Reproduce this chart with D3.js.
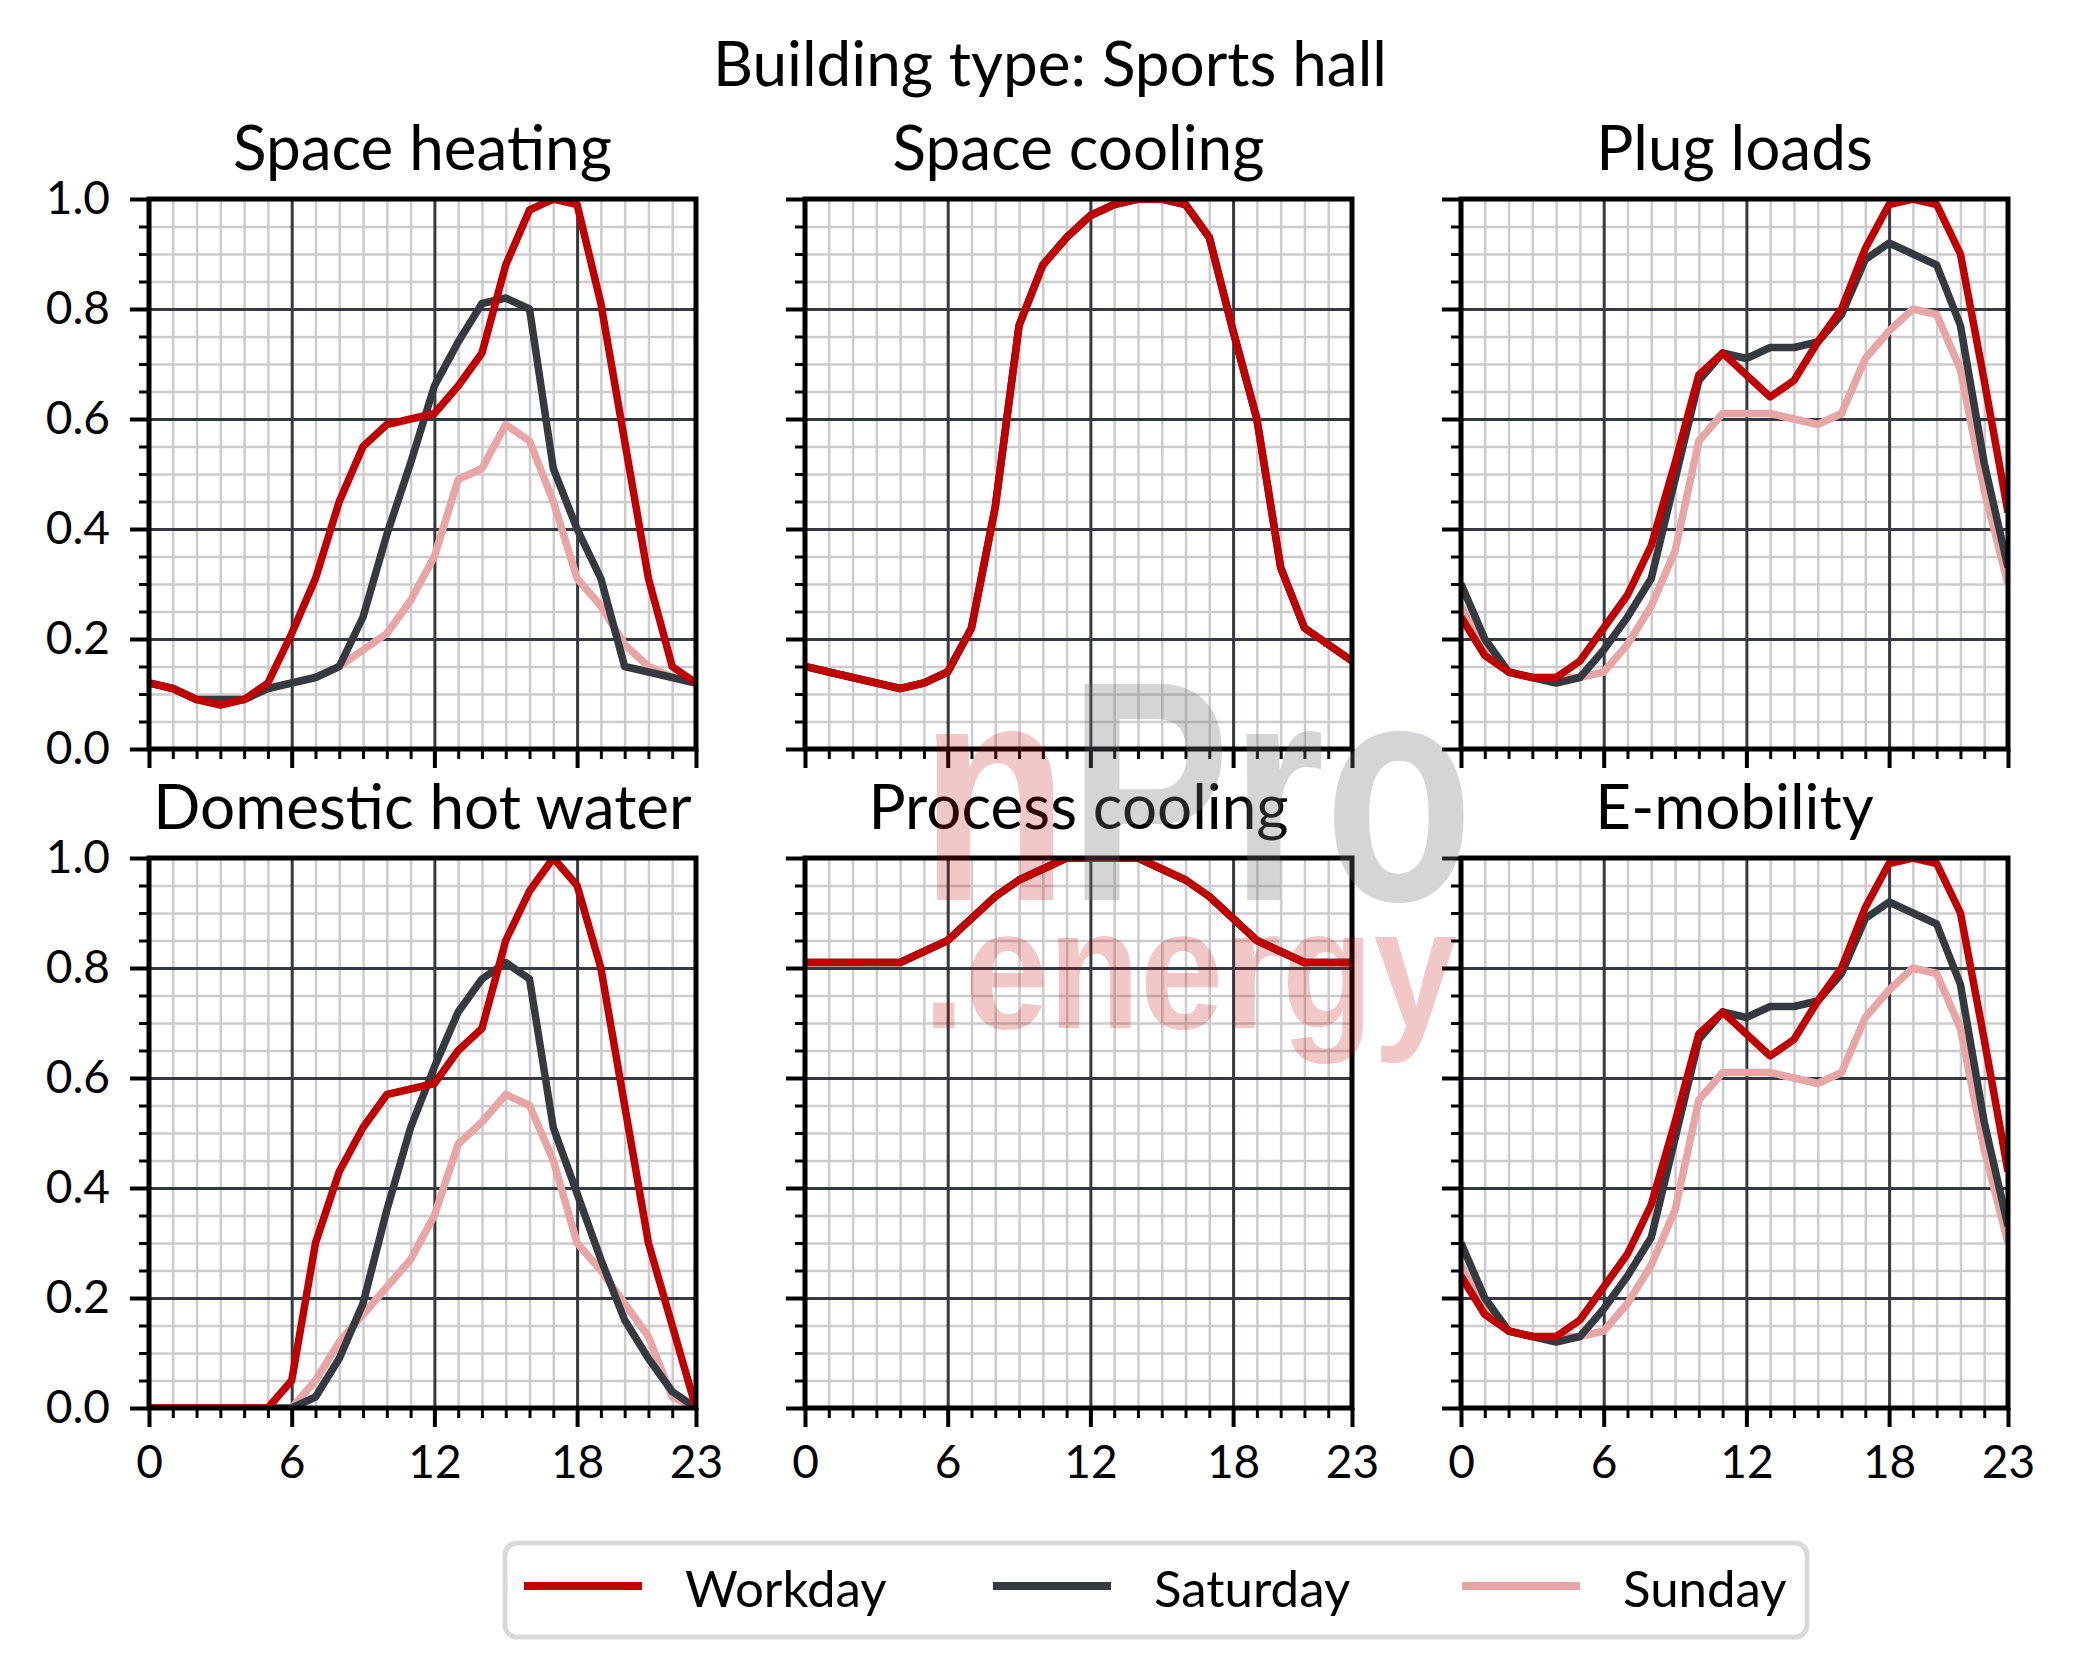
<!DOCTYPE html>
<html>
<head>
<meta charset="utf-8">
<script src="https://cdn.jsdelivr.net/npm/d3@7"></script>
<style>
  html, body { margin: 0; padding: 0; background: #ffffff; }
  svg { display: block; }
</style>
</head>
<body>
<svg id="chart" width="2077" height="1678"></svg>
<script>
// ---------------- DATA ----------------
const hours = d3.range(0, 24);
const seriesNames = ["Workday", "Saturday", "Sunday"];
const panelTitles = ["Space heating", "Space cooling", "Plug loads",
                     "Domestic hot water", "Process cooling", "E-mobility"];
const suptitle = "Building type: Sports hall";
const xTickValues = [0, 6, 12, 18, 23];
const yTickValues = [0, 0.2, 0.4, 0.6, 0.8, 1.0];

const heatingWorkday  = [0.12,0.11,0.09,0.08,0.09,0.12,0.21,0.31,0.45,0.55,0.59,0.60,0.61,0.66,0.72,0.88,0.98,1.00,0.99,0.81,0.56,0.31,0.15,0.12];
const heatingSaturday = [0.12,0.11,0.09,0.09,0.09,0.11,0.12,0.13,0.15,0.24,0.39,0.52,0.66,0.74,0.81,0.82,0.80,0.51,0.40,0.31,0.15,0.14,0.13,0.12];
const heatingSunday   = [0.12,0.11,0.09,0.09,0.09,0.11,0.12,0.13,0.15,0.18,0.21,0.27,0.35,0.49,0.51,0.59,0.56,0.45,0.31,0.26,0.19,0.15,0.13,0.12];

const coolingWorkday  = [0.15,0.14,0.13,0.12,0.11,0.12,0.14,0.22,0.44,0.77,0.88,0.93,0.97,0.99,1.00,1.00,0.99,0.93,0.76,0.60,0.33,0.22,0.19,0.16];
const coolingSaturday = [0.15,0.14,0.13,0.12,0.11,0.12,0.14,0.22,0.44,0.77,0.88,0.93,0.97,0.99,1.00,1.00,0.99,0.93,0.76,0.60,0.33,0.22,0.19,0.16];
const coolingSunday   = [0.15,0.14,0.13,0.12,0.11,0.12,0.14,0.22,0.44,0.77,0.88,0.93,0.97,0.99,1.00,1.00,0.99,0.93,0.76,0.60,0.33,0.22,0.19,0.16];

const plugWorkday  = [0.24,0.17,0.14,0.13,0.13,0.16,0.22,0.28,0.37,0.52,0.68,0.72,0.68,0.64,0.67,0.74,0.80,0.91,0.99,1.00,0.99,0.90,0.67,0.43];
const plugSaturday = [0.30,0.20,0.14,0.13,0.12,0.13,0.18,0.24,0.31,0.49,0.67,0.72,0.71,0.73,0.73,0.74,0.79,0.89,0.92,0.90,0.88,0.77,0.52,0.33];
const plugSunday   = [0.26,0.18,0.14,0.13,0.13,0.13,0.14,0.19,0.26,0.36,0.56,0.61,0.61,0.61,0.60,0.59,0.61,0.71,0.76,0.80,0.79,0.69,0.47,0.30];

const dhwWorkday  = [0,0,0,0,0,0,0.05,0.30,0.43,0.51,0.57,0.58,0.59,0.65,0.69,0.85,0.94,1.00,0.95,0.80,0.55,0.30,0.15,0.00];
const dhwSaturday = [0,0,0,0,0,0,0,0.02,0.09,0.19,0.36,0.51,0.62,0.72,0.78,0.81,0.78,0.51,0.39,0.27,0.16,0.09,0.03,0.00];
const dhwSunday   = [0,0,0,0,0,0,0,0.05,0.12,0.17,0.22,0.27,0.35,0.48,0.52,0.57,0.55,0.45,0.30,0.25,0.19,0.13,0.02,0.00];

const processWorkday  = [0.81,0.81,0.81,0.81,0.81,0.83,0.85,0.89,0.93,0.96,0.98,1.00,1.00,1.00,1.00,0.98,0.96,0.93,0.89,0.85,0.83,0.81,0.81,0.81];
const processSaturday = [0.81,0.81,0.81,0.81,0.81,0.83,0.85,0.89,0.93,0.96,0.98,1.00,1.00,1.00,1.00,0.98,0.96,0.93,0.89,0.85,0.83,0.81,0.81,0.81];
const processSunday   = [0.81,0.81,0.81,0.81,0.81,0.83,0.85,0.89,0.93,0.96,0.98,1.00,1.00,1.00,1.00,0.98,0.96,0.93,0.89,0.85,0.83,0.81,0.81,0.81];

const emobWorkday  = [0.24,0.17,0.14,0.13,0.13,0.16,0.22,0.28,0.37,0.52,0.68,0.72,0.68,0.64,0.67,0.74,0.80,0.91,0.99,1.00,0.99,0.90,0.67,0.43];
const emobSaturday = [0.30,0.20,0.14,0.13,0.12,0.13,0.18,0.24,0.31,0.49,0.67,0.72,0.71,0.73,0.73,0.74,0.79,0.89,0.92,0.90,0.88,0.77,0.52,0.33];
const emobSunday   = [0.26,0.18,0.14,0.13,0.13,0.13,0.14,0.19,0.26,0.36,0.56,0.61,0.61,0.61,0.60,0.59,0.61,0.71,0.76,0.80,0.79,0.69,0.47,0.30];

const panelData = [
  [heatingWorkday, heatingSaturday, heatingSunday],
  [coolingWorkday, coolingSaturday, coolingSunday],
  [plugWorkday, plugSaturday, plugSunday],
  [dhwWorkday, dhwSaturday, dhwSunday],
  [processWorkday, processSaturday, processSunday],
  [emobWorkday, emobSaturday, emobSunday]
];

// ---------------- STYLE / LAYOUT ----------------
const colors = {Workday: "#c00000", Saturday: "#343a40", Sunday: "#e8a5a5"};
const FONT = "Lato, 'Open Sans', sans-serif";
const colX = [149, 805, 1461];
const rowY = [199, 858];
const W = 547, H = 550;

const svg = d3.select("#chart");
svg.append("rect").attr("width", 2077).attr("height", 1678).attr("fill", "#ffffff");

const defs = svg.append("defs");

svg.append("text")
  .attr("x", 1050).attr("y", 86)
  .attr("text-anchor", "middle")
  .attr("font-family", FONT).attr("font-size", 62)
  .attr("fill", "#000").text(suptitle);

const minorY = d3.range(0, 21).map(i => i * 0.05);
const majorGridY = [0.2, 0.4, 0.6, 0.8];
const minorXGrid = hours.filter(h => h > 0 && h < 23 && h % 6 !== 0);
const majorGridX = [6, 12, 18];

panelTitles.forEach((title, i) => {
  const r = Math.floor(i / 3), c = i % 3;
  const x0 = colX[c], y0 = rowY[r];
  const x = d3.scaleLinear().domain([0, 23]).range([x0, x0 + W]);
  const y = d3.scaleLinear().domain([0, 1]).range([y0 + H, y0]);
  const g = svg.append("g");

  // minor grid
  g.append("g").attr("transform", `translate(0,${y0 + H})`)
    .call(d3.axisBottom(x).tickValues(minorXGrid).tickSize(-H).tickFormat(""))
    .call(a => a.select(".domain").remove())
    .call(a => a.selectAll("line").attr("stroke", "#cccccc").attr("stroke-width", 2.5));
  g.append("g").attr("transform", `translate(${x0},0)`)
    .call(d3.axisLeft(y).tickValues(minorY.filter(v => Math.round(v * 100) % 20 !== 0)).tickSize(-W).tickFormat(""))
    .call(a => a.select(".domain").remove())
    .call(a => a.selectAll("line").attr("stroke", "#cccccc").attr("stroke-width", 2.5));
  // major grid
  g.append("g").attr("transform", `translate(0,${y0 + H})`)
    .call(d3.axisBottom(x).tickValues(majorGridX).tickSize(-H).tickFormat(""))
    .call(a => a.select(".domain").remove())
    .call(a => a.selectAll("line").attr("stroke", "#343a40").attr("stroke-width", 3));
  g.append("g").attr("transform", `translate(${x0},0)`)
    .call(d3.axisLeft(y).tickValues(majorGridY).tickSize(-W).tickFormat(""))
    .call(a => a.select(".domain").remove())
    .call(a => a.selectAll("line").attr("stroke", "#343a40").attr("stroke-width", 3));

  // lines (clipped)
  const clipId = "clip" + i;
  defs.append("clipPath").attr("id", clipId)
    .append("rect").attr("x", x0).attr("y", y0).attr("width", W).attr("height", H);
  const line = d3.line().x((d, k) => x(hours[k])).y(d => y(d));
  const lg = g.append("g").attr("clip-path", `url(#${clipId})`);
  [2, 1, 0].forEach(s => {
    lg.append("path").datum(panelData[i][s])
      .attr("d", line)
      .attr("fill", "none")
      .attr("stroke", colors[seriesNames[s]])
      .attr("stroke-width", 7.5)
      .attr("stroke-linejoin", "round");
  });

  // ticks: minor then major
  g.append("g").attr("transform", `translate(0,${y0 + H})`)
    .call(d3.axisBottom(x).tickValues(hours).tickSize(10).tickFormat(""))
    .call(a => a.select(".domain").remove())
    .call(a => a.selectAll("line").attr("stroke", "#000").attr("stroke-width", 3));
  const xAx = g.append("g").attr("transform", `translate(0,${y0 + H})`)
    .call(d3.axisBottom(x).tickValues(xTickValues).tickSize(19).tickPadding(18)
      .tickFormat(r === 1 ? d3.format("d") : ""))
    .call(a => a.select(".domain").remove())
    .call(a => a.selectAll("line").attr("stroke", "#000").attr("stroke-width", 4));
  xAx.selectAll("text").attr("font-family", FONT).attr("font-size", 46).attr("fill", "#000")
    .attr("dy", "0.71em");

  g.append("g").attr("transform", `translate(${x0},0)`)
    .call(d3.axisLeft(y).tickValues(minorY).tickSize(10).tickFormat(""))
    .call(a => a.select(".domain").remove())
    .call(a => a.selectAll("line").attr("stroke", "#000").attr("stroke-width", 3));
  const yAx = g.append("g").attr("transform", `translate(${x0},0)`)
    .call(d3.axisLeft(y).tickValues(yTickValues).tickSize(19).tickPadding(20)
      .tickFormat(c === 0 ? d3.format(".1f") : ""))
    .call(a => a.select(".domain").remove())
    .call(a => a.selectAll("line").attr("stroke", "#000").attr("stroke-width", 4));
  yAx.selectAll("text").attr("font-family", FONT).attr("font-size", 46).attr("fill", "#000");

  // spines
  g.append("rect").attr("x", x0).attr("y", y0).attr("width", W).attr("height", H)
    .attr("fill", "none").attr("stroke", "#000").attr("stroke-width", 5);

  // title
  g.append("text").attr("x", x0 + W / 2).attr("y", y0 - 29)
    .attr("text-anchor", "middle")
    .attr("font-family", FONT).attr("font-size", 62).attr("fill", "#000")
    .text(title);
});

// ---------------- LEGEND ----------------
const leg = svg.append("g");
leg.append("rect").attr("x", 505).attr("y", 1543).attr("width", 1302).attr("height", 94)
  .attr("rx", 12).attr("fill", "#fff").attr("stroke", "#d9d9d9").attr("stroke-width", 5);
const legX = d3.scalePoint().domain(seriesNames).range([524, 1462]);
seriesNames.forEach(n => {
  const lx = legX(n);
  leg.append("line").attr("x1", lx).attr("x2", lx + 118).attr("y1", 1586).attr("y2", 1586)
    .attr("stroke", colors[n]).attr("stroke-width", 8);
  leg.append("text").attr("x", lx + 161).attr("y", 1607)
    .attr("font-family", FONT).attr("font-size", 51).attr("fill", "#000").text(n);
});

// ---------------- WATERMARK ----------------
const wm = svg.append("g").attr("font-family", "'Liberation Sans', Arial, sans-serif").attr("font-weight", "bold");
const t1 = wm.append("text").attr("x", 920).attr("y", 900).attr("font-size", 314)
  .attr("textLength", 553).attr("lengthAdjust", "spacingAndGlyphs");
t1.append("tspan").attr("fill", "#c00000").attr("fill-opacity", 0.22).text("n");
t1.append("tspan").attr("fill", "#70757b").attr("fill-opacity", 0.3).text("Pro");
wm.append("text").attr("x", 923).attr("y", 1028).attr("font-size", 170)
  .attr("textLength", 534).attr("lengthAdjust", "spacingAndGlyphs")
  .attr("fill", "#c00000").attr("fill-opacity", 0.22).text(".energy");
</script>
</body>
</html>
